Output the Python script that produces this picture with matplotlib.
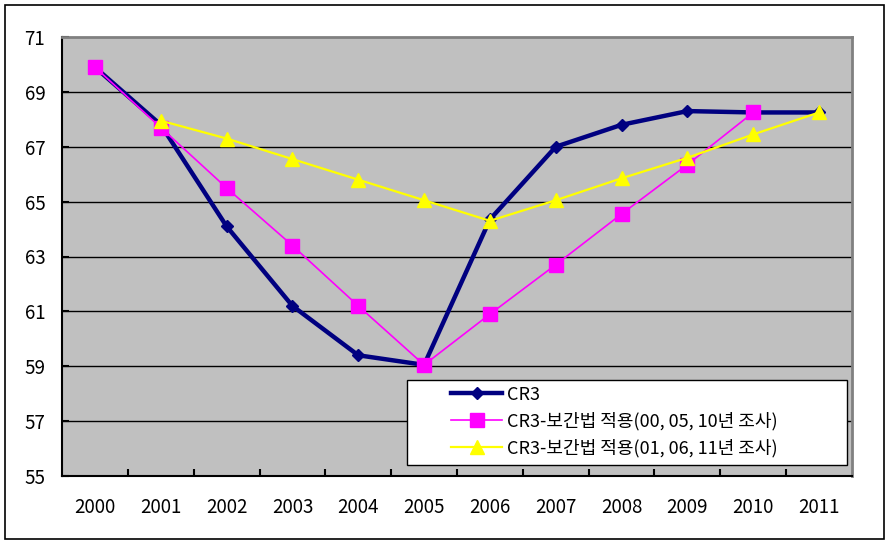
import matplotlib.pyplot as plt
from matplotlib.patches import Rectangle

plt.rcParams['font.family'] = ['Noto Sans CJK KR', 'DejaVu Sans']

years = ['2000', '2001', '2002', '2003', '2004', '2005',
         '2006', '2007', '2008', '2009', '2010', '2011']
cr3 = [69.9, 67.8, 64.1, 61.2, 59.4, 59.05, 64.35, 67.0, 67.8, 68.3, 68.25, 68.25]
cr3_a = [69.9, 67.7, 65.5, 63.4, 61.2, 59.05, 60.9, 62.7, 64.55, 66.35, 68.25]
cr3_b = [67.95, 67.3, 66.55, 65.8, 65.05, 64.3, 65.05, 65.85, 66.6, 67.45, 68.25]

label_cr3 = 'CR3'
label_a = 'CR3-보간법 적용(00, 05, 10년 조사)'
label_b = 'CR3-보간법 적용(01, 06, 11년 조사)'

fig = plt.figure(figsize=(8.89, 5.49), dpi=100)
ax = fig.add_axes([62 / 889, 1 - 476 / 549, 790 / 889, 439 / 549])
fig.patches.append(Rectangle((5 / 889, 10 / 549), 879 / 889, 534 / 549,
                             transform=fig.transFigure, fill=False,
                             edgecolor='black', linewidth=1.2))

x = list(range(len(years)))
ax.set_facecolor('#C0C0C0')
ax.plot(x, cr3, color='#000080', linewidth=3.2, marker='D', markersize=6.5,
        label=label_cr3, zorder=3)
ax.plot(x[:len(cr3_a)], cr3_a, color='#FF00FF', linewidth=1.2, marker='s',
        markersize=9.5, label=label_a, zorder=4)
ax.plot(x[1:], cr3_b, color='#FFFF00', linewidth=1.6, marker='^',
        markersize=10.5, label=label_b, zorder=5)

ax.set_xlim(-0.5, len(years) - 0.5)
ax.set_ylim(55, 71)
ax.set_yticks(range(55, 72, 2))
ax.set_xticks(x)
ax.set_xticklabels(years)
ax.set_xticks([i + 0.5 for i in range(len(years) - 1)], minor=True)
ax.tick_params(axis='x', which='major', length=0, pad=15, labelsize=13.5)
ax.tick_params(axis='x', which='minor', direction='in', length=5, width=1.5)
ax.tick_params(axis='y', direction='in', length=5, width=1.5, labelsize=13.5, pad=12)
for v in range(57, 71, 2):
    ax.axhline(v, color='black', linewidth=1, zorder=1)

ax.spines['left'].set_linewidth(1.5)
ax.spines['bottom'].set_linewidth(1.5)
ax.spines['top'].set_color('#808080')
ax.spines['right'].set_color('#808080')
ax.spines['top'].set_linewidth(2)
ax.spines['right'].set_linewidth(2)

# legend frame drawn separately so the box can be wider than its contents
ax.add_patch(Rectangle((0.4367, 0.025), 0.557, 0.194, transform=ax.transAxes,
                       facecolor='white', edgecolor='black', linewidth=1,
                       zorder=6))
leg = ax.legend(loc='upper left', bbox_to_anchor=(0.486, 0.218), fontsize=13,
                frameon=False, handlelength=2.8, handletextpad=0.3,
                borderpad=0.3, labelspacing=0.45, borderaxespad=0)
leg.set_zorder(7)

fig.savefig('out.png', dpi=100)
